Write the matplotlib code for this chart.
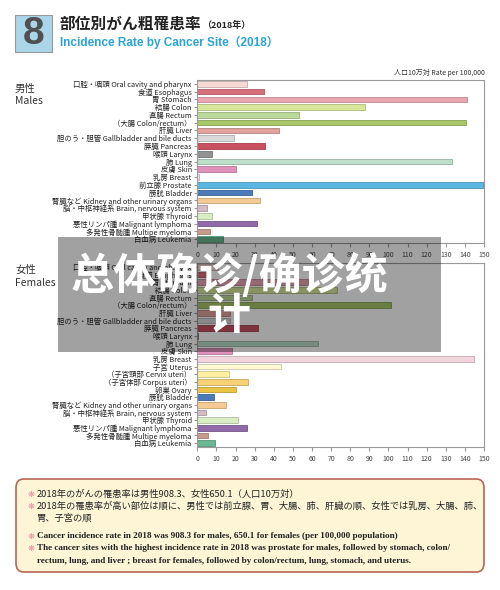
import numpy as np
import matplotlib.pyplot as plt
from matplotlib.patches import FancyBboxPatch, Rectangle

plt.rcParams['font.family'] = ['Noto Sans CJK JP', 'DejaVu Sans']

# 男性
male_labels = [
    "口腔・咽頭 Oral cavity and pharynx", "食道 Esophagus", "胃 Stomach", "結腸 Colon",
    "直腸 Rectum", "（大腸 Colon/rectum）", "肝臓 Liver", "胆のう・胆管 Gallbladder and bile ducts",
    "膵臓 Pancreas", "喉頭 Larynx", "肺 Lung", "皮膚 Skin", "乳房 Breast", "前立腺 Prostate",
    "膀胱 Bladder", "腎臓など Kidney and other urinary organs", "脳・中枢神経系 Brain, nervous system",
    "甲状腺 Thyroid", "悪性リンパ腫 Malignant lymphoma", "多発性骨髄腫 Multipe myeloma", "白血病 Leukemia",
]
male_values = [26, 34.7, 141.3, 88, 53, 140.8, 42.5, 19.4, 35.2, 7.5, 133.5, 20, 1,
               149.7, 28.6, 33, 4.9, 7.9, 31, 6.6, 13.6]
male_colors = ["#f6d9d4", "#d8707c", "#e9a6b2", "#d6e79c", "#bcd99c", "#a9c86a", "#e2a39d",
               "#dadada", "#c9505f", "#929292", "#bcdecb", "#e192ba", "#f2d4dc", "#5cb6e2",
               "#4a7bb8", "#f6ca93", "#d3bcc3", "#d9edc2", "#916aa9", "#c99a8b", "#6ab893"]

# 女性
female_labels = [
    "口腔・咽頭 Oral cavity and pharynx", "食道 Esophagus", "胃 Stomach", "結腸 Colon",
    "直腸 Rectum", "（大腸 Colon/rectum）", "肝臓 Liver", "胆のう・胆管 Gallbladder and bile ducts",
    "膵臓 Pancreas", "喉頭 Larynx", "肺 Lung", "皮膚 Skin", "乳房 Breast", "子宮 Uterus",
    "（子宮頸部 Cervix uteri）", "（子宮体部 Corpus uteri）", "卵巣 Ovary", "膀胱 Bladder",
    "腎臓など Kidney and other urinary organs", "脳・中枢神経系 Brain, nervous system",
    "甲状腺 Thyroid", "悪性リンパ腫 Malignant lymphoma", "多発性骨髄腫 Multipe myeloma", "白血病 Leukemia",
]
female_values = [11, 6, 58, 72.9, 28.6, 101.5, 17, 17, 32, 0.5, 62.9, 18, 145, 44,
                 16.8, 26.3, 20, 8.7, 14.8, 4.4, 21.4, 25.8, 5.4, 9.1]
female_colors = male_colors[:13] + ["#fff8d2", "#fff0a2", "#f6d274", "#eac244"] + male_colors[14:]

x_ticks = list(range(0, 151, 10))

fig = plt.figure(figsize=(5, 5.9), dpi=100)


def draw_panel(rect, labels, values, colors):
    ax = fig.add_axes(rect)
    y = np.arange(len(labels))
    ax.barh(y, values, height=0.72, color=colors, linewidth=0.6)
    for bar in ax.patches:
        bar.set_edgecolor(tuple(v * 0.8 for v in bar.get_facecolor()[:3]))
    ax.set_ylim(len(labels) - 0.5, -0.5)
    ax.set_xlim(0, 150)
    ax.set_yticks(y)
    ax.set_yticklabels(labels, fontsize=5.3, color="#222")
    ax.set_xticks(x_ticks)
    ax.set_xticklabels([str(t) for t in x_ticks], fontsize=5, color="#444")
    ax.tick_params(axis="y", length=2, pad=2, color="#999")
    ax.tick_params(axis="x", length=3, pad=3, color="#999")
    for s in ax.spines.values():
        s.set_color("#999")
        s.set_linewidth(0.8)
    return ax


draw_panel([0.3946, 0.5881, 0.5734, 0.2763], male_labels, male_values, male_colors)
draw_panel([0.3946, 0.2424, 0.5734, 0.3118], female_labels, female_values, female_colors)

# header
fig.patches.append(Rectangle((15 / 500, 1 - 52 / 590), 37 / 500, 37 / 590, transform=fig.transFigure,
                             facecolor="#abd5e9", edgecolor="#999", linewidth=0.8))
fig.text(33.5 / 500, 1 - 34 / 590, "8", fontsize=28, fontweight="bold", color="#505050",
         ha="center", va="center", family="Liberation Sans")
fig.text(60 / 500, 1 - 24 / 590, "部位別がん粗罹患率", fontsize=11.3, fontweight="bold", color="#222",
         ha="left", va="center")
fig.text(202 / 500, 1 - 25 / 590, "（2018年）", fontsize=6.5, fontweight="bold", color="#222",
         ha="left", va="center")
fig.text(60 / 500, 1 - 42 / 590, "Incidence Rate by Cancer Site（2018）", fontsize=8.5,
         color="#2aa3d6", ha="left", va="center", fontweight="bold",
         family=["Liberation Sans", "Noto Sans CJK JP"])
fig.text(485 / 500, 1 - 73 / 590, "人口10万対 Rate per 100,000", fontsize=5, color="#333",
         ha="right", va="center")

fig.text(15 / 500, 1 - 84 / 590, "男性\nMales", fontsize=7.5, color="#333", ha="left", va="top",
         linespacing=1.3)
fig.text(15 / 500, 1 - 265 / 590, "女性\nFemales", fontsize=7.5, color="#333", ha="left", va="top",
         linespacing=1.3)

# footer box
fig.patches.append(FancyBboxPatch((16 / 500, 1 - 572 / 590), 468 / 500, 93 / 590,
                                  boxstyle="round,pad=0,rounding_size=0.015",
                                  transform=fig.transFigure, facecolor="#fdf5d6",
                                  edgecolor="#b86655", linewidth=1.2))
jp_lines = [
    (494, "2018年のがんの罹患率は男性908.3、女性650.1（人口10万対）", True),
    (506, "2018年の罹患率が高い部位は順に、男性では前立腺、胃、大腸、肺、肝臓の順、女性では乳房、大腸、肺、", True),
    (518, "胃、子宮の順", False),
]
for yy, txt, bullet in jp_lines:
    if bullet:
        fig.text(28 / 500, 1 - yy / 590, "❋", fontsize=6, color="#e28a9a", ha="left", va="center",
                 family="DejaVu Sans")
    fig.text(37 / 500, 1 - yy / 590, txt, fontsize=6.7, color="#222", ha="left", va="center")

en_lines = [
    (536, "Cancer incidence rate in 2018 was 908.3 for males, 650.1 for females (per 100,000 population)", True),
    (548, "The cancer sites with the highest incidence rate in 2018 was prostate for males, followed by stomach, colon/", True),
    (561, "rectum, lung, and liver ; breast for females, followed by colon/rectum, lung, stomach, and uterus.", False),
]
for yy, txt, bullet in en_lines:
    if bullet:
        fig.text(28 / 500, 1 - yy / 590, "❋", fontsize=6, color="#e28a9a", ha="left", va="center",
                 family="DejaVu Sans")
    fig.text(37 / 500, 1 - yy / 590, txt, fontsize=6.6, color="#222", ha="left", va="center",
             family="Liberation Serif", fontweight="bold")

# overlay
fig.patches.append(Rectangle((58 / 500, 1 - 352 / 590), 383 / 500, 115 / 590, transform=fig.transFigure,
                             facecolor="black", alpha=0.37, edgecolor="none", zorder=10))
fig.text(229 / 500, 1 - 275 / 590, "总体确诊/确诊统", fontsize=31, fontweight="bold", color="white",
         ha="center", va="center", family=["Noto Sans CJK SC", "DejaVu Sans"], zorder=11)
fig.text(229 / 500, 1 - 316 / 590, "计", fontsize=31, fontweight="bold", color="white",
         ha="center", va="center", family=["Noto Sans CJK SC", "DejaVu Sans"], zorder=11)

fig.savefig("out.png", dpi=100)
